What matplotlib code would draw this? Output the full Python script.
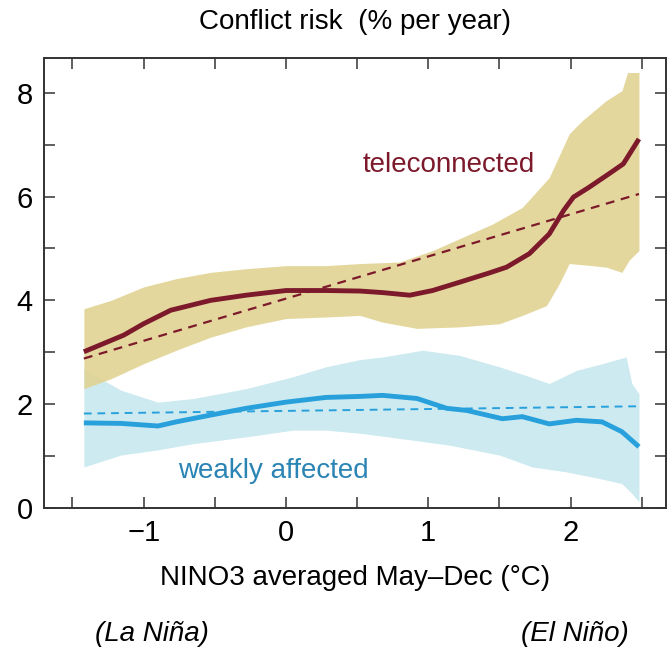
import numpy as np
import matplotlib
matplotlib.use("Agg")
import matplotlib.pyplot as plt
from matplotlib.ticker import MultipleLocator

plt.rcParams["font.family"] = ["Liberation Sans Narrow", "Liberation Sans", "DejaVu Sans"]

# teleconnected group: smoothed mean, confidence band, linear fit
tele_x = [-1.42, -1.14, -1.0, -0.81, -0.53, -0.28, 0.0, 0.29, 0.52, 0.68, 0.87, 1.03,
          1.22, 1.43, 1.55, 1.71, 1.85, 1.95, 2.02, 2.13, 2.27, 2.37, 2.48]
tele_y = [3.01, 3.33, 3.55, 3.81, 4.0, 4.10, 4.19, 4.19, 4.18, 4.15, 4.10, 4.19,
          4.35, 4.53, 4.64, 4.90, 5.28, 5.73, 5.99, 6.18, 6.44, 6.63, 7.11]

tele_hi_x = [-1.42, -1.23, -1.0, -0.77, -0.53, -0.28, 0.0, 0.28, 0.52, 0.80, 1.03,
             1.22, 1.45, 1.66, 1.85, 1.99, 2.08, 2.25, 2.36, 2.40, 2.48]
tele_hi = [3.84, 4.0, 4.26, 4.42, 4.54, 4.61, 4.67, 4.67, 4.71, 4.74, 4.96,
           5.19, 5.47, 5.79, 6.37, 7.21, 7.46, 7.85, 8.04, 8.39, 8.39]

tele_lo_x = [-1.42, -1.23, -1.0, -0.77, -0.53, -0.28, 0.0, 0.28, 0.52, 0.68, 0.92,
             1.22, 1.50, 1.66, 1.83, 1.92, 1.99, 2.15, 2.25, 2.36, 2.41, 2.48]
tele_lo = [2.30, 2.49, 2.78, 3.04, 3.29, 3.49, 3.65, 3.68, 3.71, 3.58, 3.46,
           3.49, 3.55, 3.71, 3.90, 4.32, 4.71, 4.67, 4.64, 4.54, 4.77, 4.96]

tele_fit_x = [-1.42, 2.48]
tele_fit_y = [2.88, 6.05]

# weakly affected group
weak_x = [-1.42, -1.16, -0.90, -0.77, -0.53, -0.28, 0.0, 0.28, 0.52, 0.68, 0.92,
          1.13, 1.27, 1.52, 1.66, 1.85, 2.04, 2.22, 2.36, 2.48]
weak_y = [1.64, 1.63, 1.58, 1.66, 1.79, 1.92, 2.04, 2.13, 2.15, 2.17, 2.11,
          1.92, 1.88, 1.72, 1.76, 1.62, 1.69, 1.66, 1.47, 1.18]

weak_hi_x = [-1.42, -1.16, -0.90, -0.65, -0.28, 0.05, 0.28, 0.52, 0.68, 0.96,
             1.22, 1.50, 1.68, 1.85, 2.04, 2.22, 2.39, 2.43, 2.48]
weak_hi = [2.68, 2.27, 2.04, 2.11, 2.30, 2.53, 2.72, 2.86, 2.91, 3.04,
           2.94, 2.72, 2.56, 2.40, 2.65, 2.78, 2.91, 2.40, 2.20]

weak_lo_x = [-1.42, -1.16, -0.90, -0.65, -0.28, 0.05, 0.28, 0.52, 0.80, 1.15,
             1.50, 1.73, 1.96, 2.20, 2.36, 2.43, 2.48]
weak_lo = [0.79, 1.02, 1.12, 1.24, 1.37, 1.50, 1.50, 1.44, 1.34, 1.21,
           1.02, 0.79, 0.70, 0.57, 0.47, 0.28, 0.12]

weak_fit_x = [-1.42, 2.48]
weak_fit_y = [1.82, 1.96]

tan = "#e1d393"
dark_red = "#7c1a2c"
light_blue = "#cdeaf0"
blue = "#27a0dc"

fig = plt.figure(figsize=(6.69, 6.52), dpi=100)
ax = fig.add_axes([44 / 669, 1 - 508 / 652, 622 / 669, 450 / 652])

# common grid for the bands
grid = np.union1d(np.union1d(tele_hi_x, tele_lo_x), np.union1d(weak_hi_x, weak_lo_x))
ax.fill_between(grid, np.interp(grid, weak_lo_x, weak_lo), np.interp(grid, weak_hi_x, weak_hi),
                color=light_blue, lw=0, zorder=1)
ax.fill_between(grid, np.interp(grid, tele_lo_x, tele_lo), np.interp(grid, tele_hi_x, tele_hi),
                color=tan, lw=0, alpha=0.9, zorder=2)

ax.plot(tele_fit_x, tele_fit_y, color=dark_red, lw=1.6, dashes=(4, 3), zorder=3)
ax.plot(weak_fit_x, weak_fit_y, color=blue, lw=1.4, dashes=(4, 3), zorder=3)
ax.plot(tele_x, tele_y, color=dark_red, lw=3.5, solid_capstyle="butt", zorder=4)
ax.plot(weak_x, weak_y, color=blue, lw=3.5, solid_capstyle="butt", zorder=4)

ax.text(0.54, 6.6, "teleconnected", color=dark_red, fontsize=20, va="center", ha="left")
ax.text(-0.76, 0.71, "weakly affected", color="#2a84b4", fontsize=20, va="center", ha="left")

ax.set_xlim(-1.70, 2.67)
ax.set_ylim(0, 8.67)
ax.xaxis.set_major_locator(MultipleLocator(1))
ax.xaxis.set_minor_locator(MultipleLocator(0.5))
ax.yaxis.set_major_locator(MultipleLocator(2))
ax.yaxis.set_minor_locator(MultipleLocator(1))
ax.set_xticks([-1, 0, 1, 2])
ax.set_xticklabels(["\u22121", "0", "1", "2"])
ax.tick_params(which="both", direction="in", top=True, right=True, length=8,
               width=1.1, color="#333333", labelsize=21, pad=8)
for s in ax.spines.values():
    s.set_linewidth(1.4)
    s.set_color("#333333")

fig.text(355 / 669, 1 - 22 / 652, "Conflict risk  (% per year)", ha="center", va="center", fontsize=20)
fig.text(355 / 669, 1 - 578 / 652, "NINO3 averaged May\u2013Dec (\u00b0C)", ha="center", va="center", fontsize=20)
fig.text(152 / 669, 1 - 634 / 652, "(La Ni\u00f1a)", ha="center", va="center", fontsize=20, style="italic")
fig.text(575 / 669, 1 - 634 / 652, "(El Ni\u00f1o)", ha="center", va="center", fontsize=20, style="italic")

fig.savefig("out.png", dpi=100)
